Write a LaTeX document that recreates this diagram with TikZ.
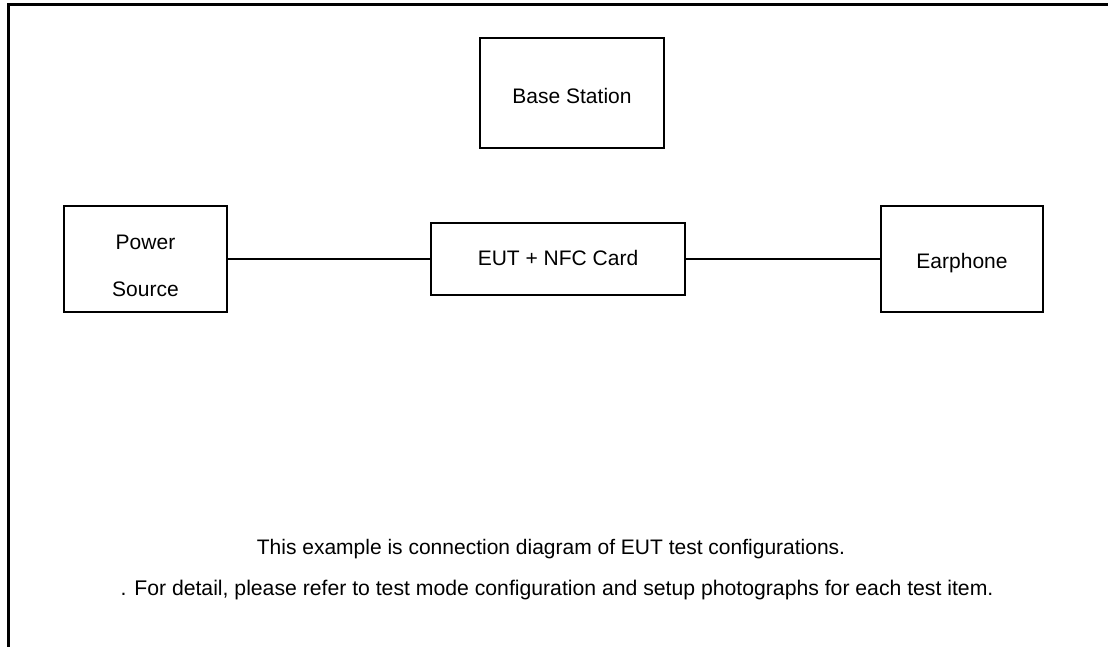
\documentclass[tikz,border=0pt]{standalone}
\usepackage{fontspec}
\setmainfont{Liberation Sans}
\begin{document}
\begin{tikzpicture}[x=1pt,y=-1pt,
  unit/.style={draw, line width=1.5pt, rectangle, inner sep=0pt,
    font=\fontsize{21}{47}\selectfont, align=center,
    text height=15pt, text depth=0pt},
  wire/.style={line width=1.5pt},
  note/.style={inner sep=0pt, font=\fontsize{21}{25}\selectfont}]
  \useasboundingbox (0,0) rectangle (1108,647);
  % outer frame (top and left edges)
  \draw[line width=2.5pt] (8.5,647) -- (8.5,4.5) -- (1108,4.5);
  % equipment
  \node[unit, minimum width=184pt, minimum height=110pt, text height=21pt] (bs) at (572,93) {Base Station};
  \node[unit, minimum width=163pt, minimum height=106pt, text height=75pt] (ps) at (145.5,259) {Power\\Source};
  \node[unit, minimum width=254pt, minimum height=72pt, text depth=2pt] (eut) at (558,259) {EUT + NFC Card};
  \node[unit, minimum width=162pt, minimum height=106pt, text height=19pt] (ep) at (962,259) {Earphone};
  % cabling
  \draw[wire] (ps.east) -- (eut.west);
  \draw[wire] (eut.east) -- (ep.west);
  % notes
  \node[note] (n1) at (551,549) {This example is connection diagram of EUT test configurations.};
  \node[note, font=\fontsize{21.2}{25}\selectfont] (n2) at (557,590) {. For detail, please refer to test mode configuration and setup photographs for each test item.};
\end{tikzpicture}
\end{document}
